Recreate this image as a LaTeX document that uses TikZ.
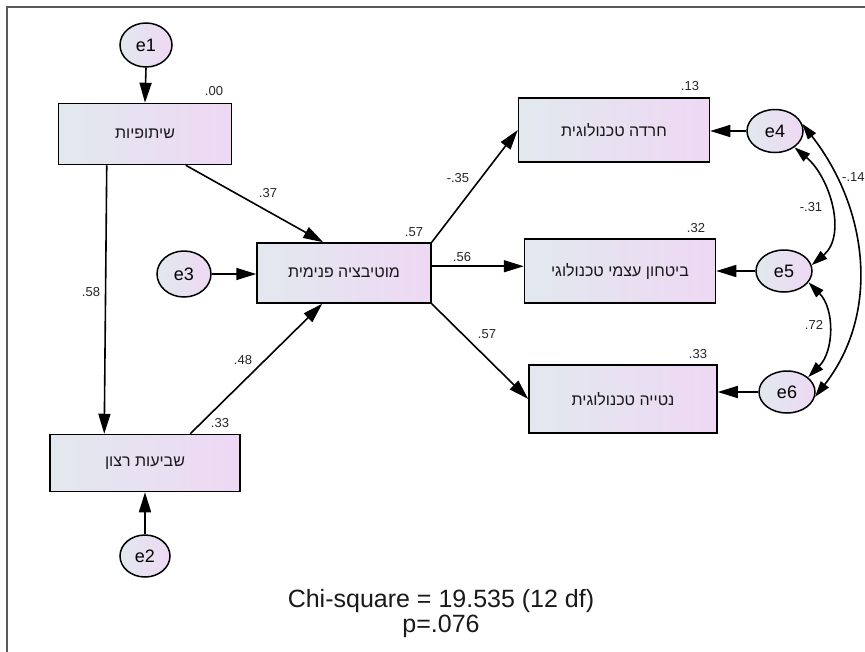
\documentclass[tikz,border=0pt]{standalone}
\usepackage{fontspec}
\setmainfont{Liberation Sans}
\newfontfamily\hebfont[Script=Hebrew]{Liberation Sans}
\TeXXeTstate=1
\usetikzlibrary{arrows.meta,shapes.geometric,calc}
\definecolor{gl}{RGB}{226,233,238}
\definecolor{gr}{RGB}{238,216,244}
\definecolor{frame}{RGB}{90,90,90}
\tikzset{
  varbox/.style={draw=black, line width=1.5pt, rectangle, left color=gl, right color=gr, inner sep=0pt, font=\hebfont\fontsize{16}{18}\selectfont, text=black!90},
  errnode/.style={draw=black, line width=1.5pt, ellipse, left color=gl, right color=gr, inner sep=0pt, minimum width=55pt, minimum height=42pt, font=\fontsize{18}{20}\selectfont},
  arr/.style={line width=1.6pt, -{Triangle[length=20pt,width=12pt]}},
  dbl/.style={line width=1.6pt, {Triangle[length=16pt,width=10pt]}-{Triangle[length=16pt,width=10pt]}},
  num/.style={font=\fontsize{13}{15}\selectfont, inner sep=0pt, text=black!85}
}
\begin{document}
\begin{tikzpicture}[x=1pt,y=1pt]
\useasboundingbox (0,0) rectangle (865,-651);
\clip (0,0) rectangle (865,-651);
\fill[white] (0,0) rectangle (865,-651);
\draw[frame, line width=1.5pt] (7,-660) -- (7,-7) -- (870,-7);

% variables
\node[varbox, minimum width=173pt, minimum height=61pt] (A) at (145,-134) {\beginR שיתופיות\endR};
\node[varbox, minimum width=190pt, minimum height=57pt] (B) at (145,-463) {\beginR שביעות רצון\endR};
\node[varbox, minimum width=174pt, minimum height=60pt] (M) at (344,-273) {\beginR מוטיבציה פנימית\endR};
\node[varbox, minimum width=191pt, minimum height=64pt] (C1) at (614,-130) {\beginR חרדה טכנולוגית\endR};
\node[varbox, minimum width=191pt, minimum height=64pt] (C2) at (620,-271) {\beginR ביטחון עצמי טכנולוגי\endR};
\node[varbox, minimum width=188pt, minimum height=68pt] (C3) at (623,-399) {\beginR נטייה טכנולוגית\endR};

% errors
\node[errnode, minimum width=52pt, minimum height=44pt] (e1) at (146,-45) {e1};
\node[errnode, minimum width=50pt, minimum height=42pt] (e2) at (145,-556) {e2};
\node[errnode, minimum width=54pt, minimum height=46pt] (e3) at (184,-274) {e3};
\node[errnode, minimum width=56pt, minimum height=43pt] (e4) at (775,-131) {e4};
\node[errnode, minimum width=56pt, minimum height=42pt] (e5) at (784,-271) {e5};
\node[errnode, minimum width=56pt, minimum height=42pt] (e6) at (787,-392) {e6};

% error arrows
\draw[arr] (e1.south) -- (A.north);
\draw[arr] (e2.north) -- (B.south);
\draw[arr] (e3.east) -- (e3.east -| M.west);
\draw[arr] (e4.west) -- (e4.west -| C1.east);
\draw[arr] (e5.west) -- (e5.west -| C2.east);
\draw[arr] (e6.west) -- (e6.west -| C3.east);

% structural paths
\coordinate (a1) at ($(A.south west)+(49,0)$);
\coordinate (b1) at ($(B.north west)+(55,0)$);
\draw[arr] (a1) -- (b1);
\coordinate (a2) at ($(A.south west)+(128,0)$);
\coordinate (m1) at ($(M.north west)+(67,0)$);
\draw[arr] (a2) -- (m1);
\coordinate (b2) at ($(B.north west)+(141,0)$);
\coordinate (m3) at ($(M.south west)+(66,0)$);
\draw[arr] (b2) -- (m3);
\draw[arr] (M.north east) -- (C1.west);
\coordinate (m2) at ($(M.north east)+(0,-24)$);
\draw[arr] (m2) -- (m2 -| C2.west);
\draw[arr] (M.south east) -- (C3.west);

% covariances
\draw[dbl] (e4.-40) to[out=-40,in=40] (e5.12);
\draw[dbl] (e5.-25) to[out=-45,in=45] (e6.35);
\draw[dbl] (e4.15) to[out=-52,in=52] (e6.-10);

% numbers
\node[num] (n1) at (214,-91) {.00};
\node[num] (n2) at (220,-423) {.33};
\node[num] (n3) at (91,-292) {.58};
\node[num] (n4) at (268,-193) {.37};
\node[num] (n5) at (243,-360) {.48};
\node[num] (n6) at (414,-232) {.57};
\node[num] (n7) at (458,-178) {-.35};
\node[num] (n8) at (462,-257) {.56};
\node[num] (n9) at (487,-334) {.57};
\node[num] (n10) at (690,-86) {.13};
\node[num] (n11) at (696,-228) {.32};
\node[num] (n12) at (698,-354) {.33};
\node[num] (n13) at (811,-207) {-.31};
\node[num] (n14) at (814,-325) {.72};
\node[num, anchor=west] (n15) at (842,-177) {-.14};

\node[font=\fontsize{25}{25}\selectfont, align=center, text=black!90] (chi) at (441,-614) {Chi-square = 19.535 (12 df)\\p=.076};
\end{tikzpicture}
\end{document}
